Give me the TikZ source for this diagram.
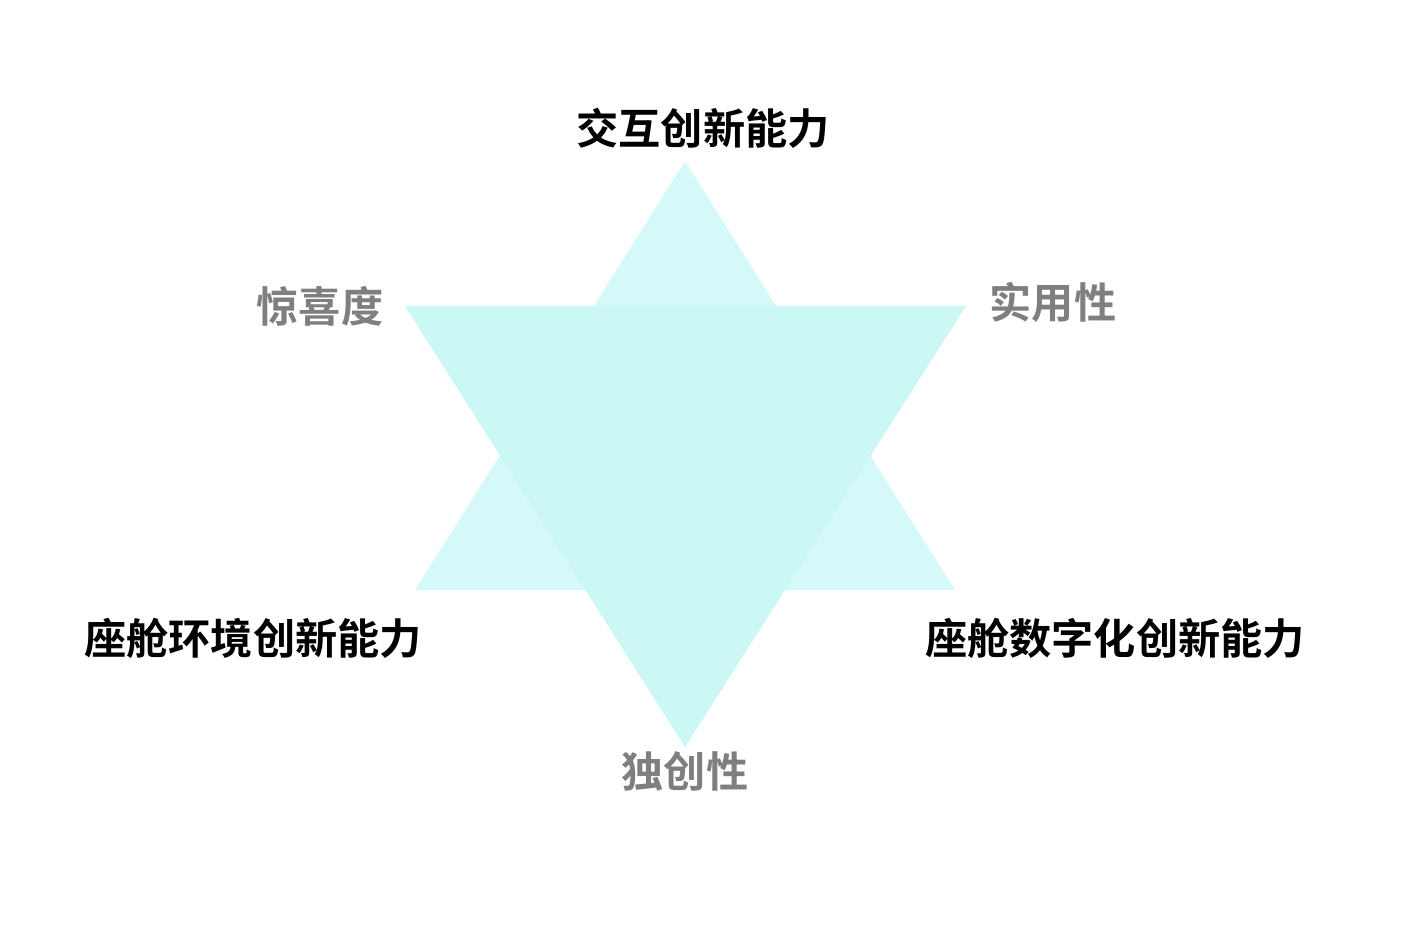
\documentclass[tikz,border=0pt]{standalone}
\usepackage{fontspec}
\newfontfamily\cjk{Noto Sans CJK SC}[BoldFont={* Bold}]
\definecolor{tri up}{HTML}{D5F9F8}
\definecolor{tri down}{HTML}{CBF7F5}
\definecolor{g1}{HTML}{7F7F7F}
\tikzset{
  main label/.style={font=\cjk\bfseries\fontsize{24pt}{27pt}\selectfont,text=black,inner sep=0pt},
  side label/.style={font=\cjk\bfseries\fontsize{24pt}{27pt}\selectfont,text=g1,inner sep=0pt}
}

\begin{document}
\begin{tikzpicture}[x=0.02cm,y=-0.02cm]
  \useasboundingbox (0,0) rectangle (1414,944);
  % the two triangles
  \fill[tri up]   (685,161) -- (955,590) -- (415,590) -- cycle;
  \fill[tri down] (405,306) -- (966,306) -- (685,747) -- cycle;
  % labels
  \node[main label] (top)   at (703,128)  {交互创新能力};
  \node[main label] (left)  at (253,638)  {座舱环境创新能力};
  \node[main label] (right) at (1115,638) {座舱数字化创新能力};
  \node[side label] (wow)   at (320,306)  {惊喜度};
  \node[side label] (use)   at (1053,302) {实用性};
  \node[side label] (orig)  at (685,771)  {独创性};
\end{tikzpicture}
\end{document}
